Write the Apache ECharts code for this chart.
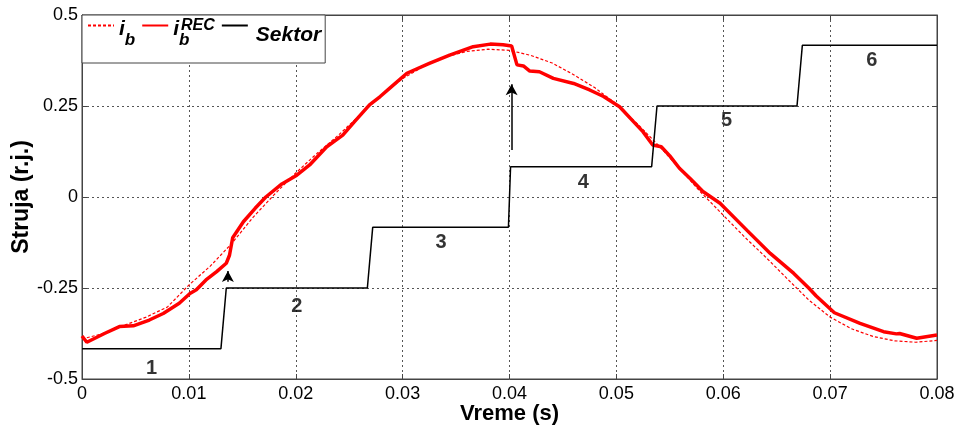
<!DOCTYPE html>
<html>
<head>
<meta charset="utf-8">
<script src="https://cdn.jsdelivr.net/npm/echarts@6/dist/echarts.min.js"></script>
<style>
  html, body { margin: 0; padding: 0; background: #fff; }
  #chart { width: 959px; height: 430px; }
</style>
</head>
<body>
<div id="chart"></div>
<script>
// Reference phase current i_b (dashed)
const timeRef = [0, 0.002, 0.004, 0.006, 0.008, 0.010, 0.012, 0.014, 0.016, 0.018, 0.020, 0.022, 0.024, 0.026, 0.028, 0.030, 0.032, 0.034, 0.036, 0.038, 0.040, 0.042, 0.044, 0.046, 0.048, 0.050, 0.052, 0.054, 0.056, 0.058, 0.060, 0.062, 0.064, 0.066, 0.068, 0.070, 0.072, 0.074, 0.076, 0.078, 0.080];
const ibRef = [-0.39, -0.375, -0.352, -0.33, -0.302, -0.242, -0.19, -0.128, -0.056, 0.007, 0.066, 0.12, 0.17, 0.225, 0.28, 0.325, 0.36, 0.385, 0.4, 0.406, 0.403, 0.389, 0.368, 0.336, 0.3, 0.255, 0.2, 0.14, 0.075, 0.01, -0.05, -0.11, -0.166, -0.225, -0.283, -0.33, -0.362, -0.383, -0.395, -0.399, -0.394];

// Reconstructed phase current i_b^REC (thick)
const timeRec = [0, 0.00045, 0.0021, 0.0035, 0.0048, 0.0063, 0.0076, 0.0091, 0.0101, 0.0107, 0.0116, 0.0126, 0.0135, 0.0138, 0.0141, 0.0151, 0.0162, 0.0172, 0.0187, 0.0201, 0.0213, 0.0229, 0.0244, 0.0255, 0.0269, 0.0279, 0.0288, 0.0304, 0.0325, 0.0344, 0.0366, 0.0382, 0.0394, 0.0402, 0.0407, 0.0413, 0.0419, 0.0428, 0.0441, 0.046, 0.0475, 0.0488, 0.0503, 0.0516, 0.0525, 0.0534, 0.0542, 0.055, 0.0559, 0.0569, 0.0581, 0.0597, 0.0622, 0.0644, 0.0666, 0.068, 0.0687, 0.0704, 0.0728, 0.075, 0.0762, 0.0765, 0.0781, 0.08];
const ibRec = [-0.382, -0.399, -0.375, -0.356, -0.354, -0.338, -0.32, -0.292, -0.265, -0.255, -0.228, -0.205, -0.182, -0.16, -0.112, -0.068, -0.031, 0.0, 0.036, 0.06, 0.088, 0.138, 0.17, 0.207, 0.253, 0.276, 0.299, 0.34, 0.367, 0.39, 0.413, 0.42, 0.418, 0.415, 0.363, 0.36, 0.346, 0.344, 0.326, 0.312, 0.294, 0.276, 0.248, 0.207, 0.179, 0.143, 0.138, 0.113, 0.079, 0.051, 0.015, -0.017, -0.091, -0.155, -0.21, -0.25, -0.272, -0.318, -0.347, -0.37, -0.376, -0.375, -0.388, -0.379];

// Sector indicator (stepped)
const sectorTime = [0, 0.0130, 0.0135, 0.0267, 0.0272, 0.0399, 0.0401, 0.0533, 0.0538, 0.0669, 0.0674, 0.08];
const sectorLevel = [-0.4167, -0.4167, -0.25, -0.25, -0.0833, -0.0833, 0.0833, 0.0833, 0.25, 0.25, 0.4167, 0.4167];

// Sector numbers
const sectorNames = ['1', '2', '3', '4', '5', '6'];
const sectorLabelTime = [0.0065, 0.0201, 0.0336, 0.0469, 0.0603, 0.0739];
const sectorLabelLevel = [-0.47, -0.302, -0.126, 0.04, 0.209, 0.376];

// Arrows marking the sector switching instants
const arrowTime = [0.01365, 0.0402];
const arrowFrom = [-0.233, 0.129];
const arrowTo = [-0.203, 0.31];

const xMin = 0, xMax = 0.08, xStep = 0.01;
const yMin = -0.5, yMax = 0.5, yStep = 0.25;

const FONT = 'Liberation Sans, Arial, sans-serif';
const pairs = (xs, ys) => xs.map((x, i) => [x, ys[i]]);

const chart = echarts.init(document.getElementById('chart'), null, { renderer: 'canvas' });

const gridLine = { show: true, lineStyle: { color: '#555', type: [2, 3], width: 1 } };
const axisLine = { show: true, onZero: false, lineStyle: { color: '#444', width: 1 } };
const innerTick = { show: true, inside: true, length: 5, lineStyle: { color: '#444' } };

const option = {
  animation: false,
  backgroundColor: '#fff',
  grid: {
    left: 82, right: 22, top: 15, bottom: 51,
    outerBoundsMode: 'none', containLabel: false,
    show: true, borderColor: '#444', borderWidth: 1
  },
  legend: {
    left: 82, top: 15,
    orient: 'horizontal',
    padding: [0, 4, 10, 5],
    itemGap: 6,
    itemWidth: 26, itemHeight: 14,
    itemStyle: { opacity: 0 },
    backgroundColor: '#fff',
    borderColor: '#444', borderWidth: 1,
    data: ['ib', 'ibREC', 'Sektor'],
    formatter: name => ({ ib: '{i|i}{b|b}', ibREC: '{i|i}{bz|b}{sup|REC}', Sektor: '{s|Sektor}' })[name],
    textStyle: {
      color: '#000',
      rich: {
        i:   { fontFamily: FONT, fontSize: 21, fontWeight: 'bold', fontStyle: 'italic', verticalAlign: 'top', lineHeight: 21, padding: [4, 0, 0, 0] },
        b:   { fontFamily: FONT, fontSize: 17, fontWeight: 'bold', fontStyle: 'italic', verticalAlign: 'top', lineHeight: 17, padding: [17, 0, 0, 0] },
        bz:  { fontFamily: FONT, fontSize: 17, fontWeight: 'bold', fontStyle: 'italic', verticalAlign: 'top', lineHeight: 17, padding: [17, 0, 0, 0], width: 1 },
        sup: { fontFamily: FONT, fontSize: 16, fontWeight: 'bold', fontStyle: 'italic', verticalAlign: 'top', lineHeight: 16, padding: [3, 0, 0, 1] },
        s:   { fontFamily: FONT, fontSize: 21, fontWeight: 'bold', fontStyle: 'italic', verticalAlign: 'top', lineHeight: 21, padding: [10, 0, 7, 3] }
      }
    }
  },
  xAxis: [{
    type: 'value', min: xMin, max: xMax, interval: xStep,
    name: 'Vreme (s)', nameLocation: 'middle', nameGap: 24, nameMoveOverlap: false,
    nameTextStyle: { fontFamily: FONT, fontSize: 22, fontWeight: 'bold', color: '#000' },
    axisLine: axisLine,
    axisTick: innerTick,
    axisLabel: { fontFamily: FONT, fontSize: 18, color: '#000', margin: 6, formatter: v => String(+v.toFixed(2)) },
    splitLine: gridLine
  }, {
    type: 'value', min: xMin, max: xMax, interval: xStep, position: 'top',
    axisLine: axisLine, axisTick: innerTick,
    axisLabel: { show: false }, splitLine: { show: false }
  }],
  yAxis: [{
    type: 'value', min: yMin, max: yMax, interval: yStep,
    name: 'Struja (r.j.)', nameLocation: 'middle', nameGap: 49, nameRotate: 90, nameMoveOverlap: false,
    nameTextStyle: { fontFamily: FONT, fontSize: 23, fontWeight: 'bold', color: '#000' },
    axisLine: axisLine,
    axisTick: innerTick,
    axisLabel: { fontFamily: FONT, fontSize: 18, color: '#000', margin: 4 },
    splitLine: gridLine
  }, {
    type: 'value', min: yMin, max: yMax, interval: yStep, position: 'right',
    axisLine: axisLine, axisTick: innerTick,
    axisLabel: { show: false }, splitLine: { show: false }
  }],
  series: [
    {
      name: 'ib', type: 'line', symbol: 'none', data: pairs(timeRef, ibRef),
      lineStyle: { color: '#ff0000', width: 1.2, type: [3, 2] }, itemStyle: { color: '#ff0000' }, z: 2
    },
    {
      name: 'ibREC', type: 'line', symbol: 'none', data: pairs(timeRec, ibRec),
      lineStyle: { color: '#ff0000', width: 3.5 }, itemStyle: { color: '#ff0000' }, z: 3
    },
    {
      name: 'Sektor', type: 'line', symbol: 'none', data: pairs(sectorTime, sectorLevel),
      lineStyle: { color: '#000', width: 1.5 }, itemStyle: { color: '#000' }, z: 4,
      markLine: {
        silent: true, symbol: ['none', 'arrow'], symbolSize: [9, 11], animation: false,
        label: { show: false },
        lineStyle: { color: '#000', width: 1.5, type: 'solid' },
        data: arrowTime.map((t, i) => [{ coord: [t, arrowFrom[i]] }, { coord: [t, arrowTo[i]] }])
      }
    },
    {
      name: 'labels', type: 'scatter', symbolSize: 0, z: 5,
      data: sectorLabelTime.map((t, i) => [t, sectorLabelLevel[i], sectorNames[i]]),
      label: {
        show: true, position: 'inside', formatter: p => p.value[2],
        fontFamily: FONT, fontSize: 20, fontWeight: 'bold', color: '#000'
      }
    }
  ]
};

chart.setOption(option);
</script>
</body>
</html>
